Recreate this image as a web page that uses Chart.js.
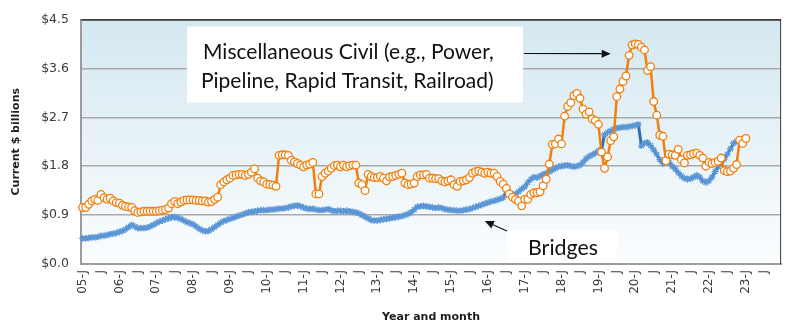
<!DOCTYPE html>
<html lang="en">
<head>
<meta charset="UTF-8">
<title>Miscellaneous Civil vs Bridges</title>
<script src="https://cdn.jsdelivr.net/npm/chart.js@4.4.1/dist/chart.umd.min.js"></script>
<style>
  html, body { margin: 0; padding: 0; background: #fff; }
</style>
</head>
<body>
<canvas id="grafico" width="800" height="330"></canvas>
<script>
// monthly values, current $ billions, Jan 2005 onward
const firstYear = 2005, lastYear = 2023;

const miscCivil = [
  1.04, 1.04, 1.10, 1.16, 1.19, 1.17, 1.28, 1.22, 1.19, 1.21, 1.16, 1.13, // 2005
  1.12, 1.08, 1.06, 1.05, 1.04, 0.98, 0.95, 0.96, 0.97, 0.97, 0.97, 0.97, // 2006
  0.97, 0.98, 0.99, 1.00, 1.03, 1.11, 1.15, 1.11, 1.14, 1.17, 1.18, 1.18, // 2007
  1.18, 1.17, 1.17, 1.16, 1.16, 1.14, 1.15, 1.19, 1.23, 1.46, 1.51, 1.55, // 2008
  1.58, 1.63, 1.64, 1.65, 1.65, 1.63, 1.65, 1.69, 1.75, 1.58, 1.53, 1.51, // 2009
  1.47, 1.46, 1.45, 1.43, 2.00, 2.01, 2.01, 2.00, 1.91, 1.88, 1.85, 1.82, // 2010
  1.79, 1.82, 1.84, 1.87, 1.29, 1.29, 1.61, 1.67, 1.71, 1.76, 1.81, 1.82, // 2011
  1.79, 1.82, 1.79, 1.81, 1.82, 1.82, 1.49, 1.46, 1.35, 1.65, 1.61, 1.59, // 2012
  1.59, 1.61, 1.58, 1.53, 1.60, 1.61, 1.63, 1.65, 1.67, 1.49, 1.46, 1.47, // 2013
  1.49, 1.61, 1.64, 1.64, 1.65, 1.58, 1.58, 1.57, 1.57, 1.53, 1.51, 1.53, // 2014
  1.55, 1.46, 1.43, 1.52, 1.53, 1.55, 1.59, 1.67, 1.70, 1.71, 1.69, 1.67, // 2015
  1.69, 1.67, 1.67, 1.61, 1.52, 1.47, 1.39, 1.29, 1.23, 1.19, 1.16, 1.07, // 2016
  1.19, 1.19, 1.28, 1.31, 1.31, 1.33, 1.44, 1.56, 1.84, 2.20, 2.21, 2.30, // 2017
  2.21, 2.72, 2.90, 2.97, 3.10, 3.14, 3.05, 2.85, 2.76, 2.80, 2.67, 2.64, // 2018
  2.57, 2.06, 1.76, 1.97, 2.27, 2.34, 3.08, 3.22, 3.36, 3.46, 3.84, 4.03, // 2019
  4.05, 4.04, 3.99, 3.94, 3.56, 3.63, 2.99, 2.74, 2.37, 2.35, 1.90, 2.02, // 2020
  2.01, 2.00, 2.11, 1.92, 1.86, 2.00, 2.01, 2.03, 2.04, 2.00, 1.95, 1.80, // 2021
  1.87, 1.85, 1.87, 1.89, 1.95, 1.72, 1.70, 1.71, 1.76, 1.83, 2.28, 2.22, // 2022
  2.31                                                                    // 2023
];

const bridges = [
  0.47, 0.47, 0.48, 0.49, 0.49, 0.50, 0.52, 0.52, 0.53, 0.55, 0.56, 0.57, // 2005
  0.59, 0.61, 0.64, 0.68, 0.72, 0.69, 0.66, 0.66, 0.66, 0.67, 0.69, 0.72, // 2006
  0.75, 0.78, 0.80, 0.82, 0.84, 0.86, 0.86, 0.85, 0.83, 0.80, 0.77, 0.75, // 2007
  0.73, 0.69, 0.65, 0.62, 0.60, 0.61, 0.64, 0.68, 0.72, 0.76, 0.79, 0.81, // 2008
  0.83, 0.85, 0.87, 0.89, 0.91, 0.93, 0.95, 0.96, 0.97, 0.98, 0.99, 0.99, // 2009
  0.99, 1.00, 1.00, 1.01, 1.02, 1.02, 1.03, 1.04, 1.06, 1.07, 1.08, 1.06, // 2010
  1.04, 1.02, 1.01, 1.02, 1.00, 0.99, 0.99, 1.00, 1.01, 0.99, 0.97, 0.98, // 2011
  0.98, 0.97, 0.98, 0.97, 0.96, 0.95, 0.93, 0.90, 0.87, 0.84, 0.81, 0.80, // 2012
  0.80, 0.81, 0.82, 0.83, 0.84, 0.85, 0.86, 0.87, 0.88, 0.90, 0.92, 0.95, // 2013
  1.00, 1.05, 1.06, 1.07, 1.06, 1.05, 1.04, 1.03, 1.04, 1.03, 1.01, 1.00, // 2014
  0.99, 0.99, 0.98, 0.98, 0.99, 1.00, 1.01, 1.03, 1.05, 1.07, 1.09, 1.11, // 2015
  1.13, 1.15, 1.16, 1.18, 1.20, 1.22, 1.34, 1.30, 1.27, 1.29, 1.33, 1.38, // 2016
  1.42, 1.50, 1.56, 1.60, 1.59, 1.62, 1.65, 1.67, 1.70, 1.73, 1.76, 1.79, // 2017
  1.80, 1.81, 1.82, 1.80, 1.79, 1.80, 1.82, 1.87, 1.94, 1.98, 2.01, 2.04, // 2018
  2.08, 2.10, 2.38, 2.42, 2.45, 2.48, 2.50, 2.51, 2.52, 2.52, 2.53, 2.54, // 2019
  2.55, 2.57, 2.18, 2.22, 2.24, 2.18, 2.10, 2.02, 1.92, 1.85, 1.90, 1.87, // 2020
  1.80, 1.75, 1.68, 1.62, 1.58, 1.56, 1.57, 1.60, 1.63, 1.60, 1.53, 1.50, // 2021
  1.53, 1.60, 1.70, 1.79, 1.87, 1.93, 2.02, 2.12, 2.22, 2.26, 2.25, 2.30  // 2022
];

const yTicks = [0, 0.9, 1.8, 2.7, 3.6, 4.5];

// one category per month, label only January (YY-J) and July (J)
const months = [];
const tickLabels = [];
for (let yr = firstYear; yr <= lastYear; yr++) {
  for (let m = 0; m < 12; m++) {
    months.push(yr + '-' + String(m + 1).padStart(2, '0'));
    tickLabels.push(m === 0 ? String(yr).slice(2) + '-J' : (m === 6 ? 'J' : ''));
  }
}

// light blue fade behind the plot
const fondo = {
  id: 'fondo',
  beforeDraw(chart) {
    const { ctx, chartArea: a } = chart;
    const g = ctx.createLinearGradient(0, a.top, 0, a.bottom);
    g.addColorStop(0, '#d4e8f1');
    g.addColorStop(1, '#fbfdfe');
    ctx.save();
    ctx.fillStyle = g;
    ctx.fillRect(a.left, a.top, a.right - a.left, a.bottom - a.top);
    ctx.restore();
  },
  beforeDatasetsDraw(chart) {
    const { ctx, chartArea: a } = chart;
    ctx.save();
    ctx.strokeStyle = '#3c3c3c';
    ctx.lineWidth = 1;
    ctx.beginPath();
    ctx.moveTo(a.left, a.top + 0.5);
    ctx.lineTo(a.right - 0.5, a.top + 0.5);
    ctx.lineTo(a.right - 0.5, a.bottom);
    ctx.stroke();
    ctx.restore();
  }
};

function fitText(ctx, text, x, y, maxW) {
  const w = ctx.measureText(text).width;
  ctx.save();
  ctx.translate(x, y);
  if (w > maxW) ctx.scale(maxW / w, 1);
  ctx.fillText(text, 0, 0);
  ctx.restore();
}

function arrow(ctx, x1, y1, x2, y2) {
  const ang = Math.atan2(y2 - y1, x2 - x1);
  const len = 9, half = 4;
  ctx.beginPath();
  ctx.moveTo(x1, y1);
  ctx.lineTo(x2 - Math.cos(ang) * len, y2 - Math.sin(ang) * len);
  ctx.stroke();
  ctx.beginPath();
  ctx.moveTo(x2, y2);
  ctx.lineTo(x2 - Math.cos(ang) * len - Math.sin(ang) * half, y2 - Math.sin(ang) * len + Math.cos(ang) * half);
  ctx.lineTo(x2 - Math.cos(ang) * len + Math.sin(ang) * half, y2 - Math.sin(ang) * len - Math.cos(ang) * half);
  ctx.closePath();
  ctx.fill();
}

// text boxes and pointer arrows
const notas = {
  id: 'notas',
  afterDatasetsDraw(chart) {
    const { ctx, chartArea: a, scales: { x, y } } = chart;
    ctx.save();
    ctx.textBaseline = 'alphabetic';

    const bx = a.left + 106, by = a.top + 7, bw = 336, bh = 76;
    ctx.fillStyle = '#ffffff';
    ctx.fillRect(bx, by, bw, bh);
    ctx.fillStyle = '#111';
    ctx.font = '21px Lato';
    fitText(ctx, 'Miscellaneous Civil (e.g., Power,', bx + 16, by + 32, 306);
    fitText(ctx, 'Pipeline, Rapid Transit, Railroad)', bx + 14, by + 61, 309);
    ctx.strokeStyle = '#111';
    ctx.lineWidth = 1.2;
    arrow(ctx, bx + bw + 1, by + 27, x.getPixelForValue(172), y.getPixelForValue(3.87));

    const cx = a.left + 426, cy = a.bottom - 34;
    ctx.fillStyle = '#ffffff';
    ctx.fillRect(cx, cy, 110, 33);
    ctx.fillStyle = '#111';
    ctx.font = '22px Lato';
    fitText(ctx, 'Bridges', cx + 21, cy + 25, 70);
    arrow(ctx, cx, cy + 1, x.getPixelForValue(131), y.getPixelForValue(0.79));
    ctx.restore();
  }
};

Chart.defaults.font.family = '"DejaVu Sans", sans-serif';
Chart.defaults.color = '#3a3a3a';

const ctx = document.getElementById('grafico').getContext('2d');
const grafico = new Chart(ctx, {
  type: 'line',
  data: {
    labels: months,
    datasets: [
      {
        label: 'Miscellaneous Civil',
        data: miscCivil,
        borderColor: '#f07f0e',
        borderWidth: 2.5,
        pointStyle: 'circle',
        pointRadius: 3.8,
        pointBorderWidth: 1.3,
        pointBackgroundColor: '#ffffff',
        pointBorderColor: '#f07f0e',
        tension: 0
      },
      {
        label: 'Bridges',
        data: bridges,
        borderColor: '#2f6fb2',
        borderWidth: 3,
        pointStyle: 'star',
        pointRadius: 3.4,
        pointBorderWidth: 1.2,
        pointBorderColor: '#5a96d6',
        pointBackgroundColor: '#5a96d6',
        tension: 0
      }
    ]
  },
  options: {
    responsive: false,
    animation: false,
    devicePixelRatio: 1,
    layout: { padding: { top: 15, right: 16, left: 0, bottom: 0 } },
    plugins: { legend: { display: false }, tooltip: { enabled: false } },
    scales: {
      x: {
        offset: true,
        grid: { display: false, drawTicks: false },
        border: { display: true, color: '#9c9c9c', width: 2 },
        ticks: {
          autoSkip: false, minRotation: 90, maxRotation: 90, padding: 6,
          font: { size: 12 },
          callback: (v, i) => tickLabels[i]
        },
        title: {
          display: true, text: 'Year and month', color: '#1e1e1e',
          font: { size: 11, weight: 'bold' }, padding: { top: 0, bottom: 6 }
        },
        afterFit: s => { s.height = 66; }
      },
      y: {
        min: 0, max: 4.5,
        afterBuildTicks: s => { s.ticks = yTicks.map(v => ({ value: v })); },
        ticks: { padding: 12, font: { size: 12.5 }, callback: v => '$' + v.toFixed(1) },
        grid: {
          drawTicks: false, lineWidth: 1.5,
          color: c => Math.abs(c.tick.value - 4.5) < 1e-6 ? '#3c3c3c' : '#a9a9a9'
        },
        border: { display: true, color: '#9c9c9c', width: 2 },
        title: {
          display: true, text: 'Current $ billions', color: '#1e1e1e',
          font: { size: 11, weight: 'bold' }, padding: { top: 10, bottom: 0 }
        },
        afterFit: s => { s.width = 81; }
      }
    }
  },
  plugins: [fondo, notas]
});
</script>
</body>
</html>
